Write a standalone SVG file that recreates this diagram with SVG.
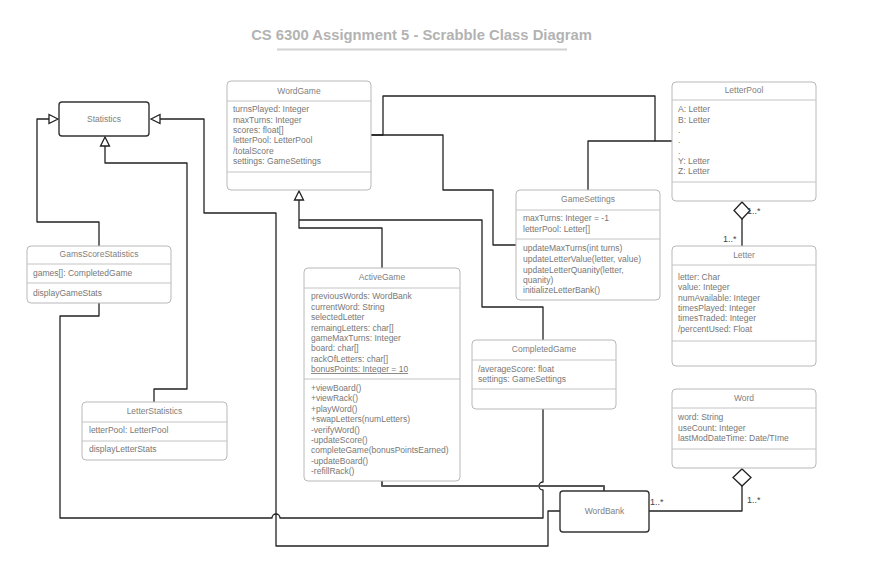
<svg xmlns="http://www.w3.org/2000/svg" width="891" height="583" viewBox="0 0 891 583">
<style>
.box{fill:#fff;stroke:#b8b8b8;stroke-width:1}
.sep{stroke:#c4c4c4;stroke-width:1}
.bold{fill:#fff;stroke:#333;stroke-width:1.4}
.t{font-family:"Liberation Sans",Arial,sans-serif;font-size:8.5px;fill:#777}
.h{font-family:"Liberation Sans",Arial,sans-serif;font-size:8.5px;fill:#808080;text-anchor:middle}
.m{font-family:"Liberation Sans",Arial,sans-serif;font-size:9px;fill:#444}
.c{fill:none;stroke:#222;stroke-width:1.3;stroke-linejoin:round}
.tri{fill:#fff;stroke:#222;stroke-width:1.3}
</style>
<rect width="891" height="583" fill="#fff"/>
<g id="title">
<text x="421.5" y="40" text-anchor="middle" style="font-family:'Liberation Sans',Arial,sans-serif;font-size:14.8px;font-weight:bold;fill:#b3b3b3">CS 6300 Assignment 5 - Scrabble Class Diagram</text>
<line x1="277" y1="49.5" x2="567" y2="49.5" stroke="#d2d2d2" stroke-width="2"/>
</g>
<g id="connectors">
<path class="c" d="M99,246 V222 H37 V119 H49"/>
<polygon class="tri" points="58,119 49,114.5 49,123.5"/>
<path class="c" d="M160,119 H204 V213 H276 V546 H548 V511 H560"/>
<polygon class="tri" points="151,119 160,114.5 160,123.5"/>
<path class="c" d="M154,402 V389 H187 V163 H105 V146"/>
<polygon class="tri" points="105,137 100.5,146 109.5,146"/>
<path class="c" d="M99,303 V316 H60 V518 H272 A4,4 0 0 1 280,518 H543 V490 A4,4 0 0 1 543,482 V409"/>
<path class="c" d="M299,200 V228 H382 V268"/>
<path class="c" d="M299,220 H482 V307 H543 V340"/>
<polygon class="tri" points="299,191 294.5,200 303.5,200"/>
<path class="c" d="M371,135 H383 V96 H655 V141 H672"/>
<path class="c" d="M588,190 V141 H655"/>
<path class="c" d="M371,135 H443 V190 H493 V245 H516"/>
<path class="c" d="M382,481 V486 H604 V491" style="stroke:#555;stroke-width:2"/>
<path class="c" d="M649,511 H742 V486"/>
<polygon class="tri" points="742,469 751,477.5 742,486 733,477.5"/>
<path class="c" d="M742,219 V246"/>
<polygon class="tri" points="742,202 750,210.5 742,219 734,210.5"/>
<text class="m" x="747" y="214">1..*</text>
<text class="m" x="723" y="242">1..*</text>
<text class="m" x="650" y="505">1..*</text>
<text class="m" x="747" y="503">1..*</text>
</g>
<g id="Statistics">
<rect class="bold" x="59" y="102" width="90" height="34" rx="3"/>
<text class="h" x="104" y="122">Statistics</text>
</g>
<g id="WordBank">
<rect class="bold" x="560" y="491" width="89" height="41" rx="3"/>
<text class="h" x="604.5" y="514">WordBank</text>
</g>
<g id="WordGame">
<rect class="box" x="227" y="81" width="144" height="109" rx="4"/>
<line class="sep" x1="227" y1="101" x2="371" y2="101"/>
<line class="sep" x1="227" y1="172" x2="371" y2="172"/>
<text class="h" x="299" y="94">WordGame</text>
<text class="t" x="233" y="112">turnsPlayed: Integer</text>
<text class="t" x="233" y="122.5">maxTurns: Integer</text>
<text class="t" x="233" y="133">scores: float[]</text>
<text class="t" x="233" y="143">letterPool: LetterPool</text>
<text class="t" x="233" y="153.5">/totalScore</text>
<text class="t" x="233" y="164">settings: GameSettings</text>
</g>
<g id="LetterPool">
<rect class="box" x="672" y="82" width="144" height="119" rx="4"/>
<line class="sep" x1="672" y1="100" x2="816" y2="100"/>
<line class="sep" x1="672" y1="182" x2="816" y2="182"/>
<text class="h" x="744" y="93">LetterPool</text>
<text class="t" x="678" y="112">A: Letter</text>
<text class="t" x="678" y="122.5">B: Letter</text>
<text class="t" x="678" y="133">.</text>
<text class="t" x="678" y="143">.</text>
<text class="t" x="678" y="153.5">.</text>
<text class="t" x="678" y="164">Y: Letter</text>
<text class="t" x="678" y="174">Z: Letter</text>
</g>
<g id="GameSettings">
<rect class="box" x="516" y="190" width="144" height="110" rx="4"/>
<line class="sep" x1="516" y1="210" x2="660" y2="210"/>
<line class="sep" x1="516" y1="239" x2="660" y2="239"/>
<text class="h" x="588" y="202">GameSettings</text>
<text class="t" x="523" y="221">maxTurns:  Integer = -1</text>
<text class="t" x="523" y="232">letterPool: Letter[]</text>
<text class="t" x="523" y="251">updateMaxTurns(int turns)</text>
<text class="t" x="523" y="262">updateLetterValue(letter, value)</text>
<text class="t" x="523" y="272.5">updateLetterQuanity(letter,</text>
<text class="t" x="523" y="283">quanity)</text>
<text class="t" x="523" y="293">initializeLetterBank()</text>
</g>
<g id="Letter">
<rect class="box" x="672" y="246" width="144" height="120" rx="4"/>
<line class="sep" x1="672" y1="265" x2="816" y2="265"/>
<line class="sep" x1="672" y1="341" x2="816" y2="341"/>
<text class="h" x="744" y="258">Letter</text>
<text class="t" x="678" y="280">letter: Char</text>
<text class="t" x="678" y="290">value: Integer</text>
<text class="t" x="678" y="300.5">numAvailable: Integer</text>
<text class="t" x="678" y="311">timesPlayed: Integer</text>
<text class="t" x="678" y="321">timesTraded: Integer</text>
<text class="t" x="678" y="331.5">/percentUsed: Float</text>
</g>
<g id="Word">
<rect class="box" x="672" y="389" width="144" height="79" rx="4"/>
<line class="sep" x1="672" y1="408" x2="816" y2="408"/>
<line class="sep" x1="672" y1="449" x2="816" y2="449"/>
<text class="h" x="744" y="401">Word</text>
<text class="t" x="678" y="420">word: String</text>
<text class="t" x="678" y="431">useCount: Integer</text>
<text class="t" x="678" y="441">lastModDateTime: Date/TIme</text>
</g>
<g id="CompletedGame">
<rect class="box" x="472" y="340" width="144" height="69" rx="4"/>
<line class="sep" x1="472" y1="360" x2="616" y2="360"/>
<line class="sep" x1="472" y1="389" x2="616" y2="389"/>
<text class="h" x="544" y="352">CompletedGame</text>
<text class="t" x="478" y="372">/averageScore: float</text>
<text class="t" x="478" y="382">settings: GameSettings</text>
</g>
<g id="ActiveGame">
<rect class="box" x="304" y="268" width="156" height="213" rx="4"/>
<line class="sep" x1="304" y1="288" x2="460" y2="288"/>
<line class="sep" x1="304" y1="379" x2="460" y2="379"/>
<text class="h" x="382" y="280">ActiveGame</text>
<text class="t" x="311" y="299">previousWords: WordBank</text>
<text class="t" x="311" y="310">currentWord: String</text>
<text class="t" x="311" y="320">selectedLetter</text>
<text class="t" x="311" y="330.5">remaingLetters: char[]</text>
<text class="t" x="311" y="341">gameMaxTurns: Integer</text>
<text class="t" x="311" y="351">board: char[]</text>
<text class="t" x="311" y="361.5">rackOfLetters: char[]</text>
<text class="t" x="311" y="372" text-decoration="underline">bonusPoints: Integer = 10</text>
<text class="t" x="311" y="390.5">+viewBoard()</text>
<text class="t" x="311" y="401">+viewRack()</text>
<text class="t" x="311" y="411.5">+playWord()</text>
<text class="t" x="311" y="422">+swapLetters(numLetters)</text>
<text class="t" x="311" y="432.5">-verifyWord()</text>
<text class="t" x="311" y="443">-updateScore()</text>
<text class="t" x="311" y="453">completeGame(bonusPointsEarned)</text>
<text class="t" x="311" y="463.5">-updateBoard()</text>
<text class="t" x="311" y="474">-refillRack()</text>
</g>
<g id="GamsScoreStatistics">
<rect class="box" x="27" y="246" width="144" height="57" rx="4"/>
<line class="sep" x1="27" y1="264" x2="171" y2="264"/>
<line class="sep" x1="27" y1="283" x2="171" y2="283"/>
<text class="h" x="99" y="257">GamsScoreStatistics</text>
<text class="t" x="33" y="276">games[]: CompletedGame</text>
<text class="t" x="33" y="295.5">displayGameStats</text>
</g>
<g id="LetterStatistics">
<rect class="box" x="82" y="402" width="145" height="58" rx="4"/>
<line class="sep" x1="82" y1="422" x2="227" y2="422"/>
<line class="sep" x1="82" y1="441" x2="227" y2="441"/>
<text class="h" x="154.5" y="414">LetterStatistics</text>
<text class="t" x="89" y="433">letterPool: LetterPool</text>
<text class="t" x="89" y="452">displayLetterStats</text>
</g>
</svg>
